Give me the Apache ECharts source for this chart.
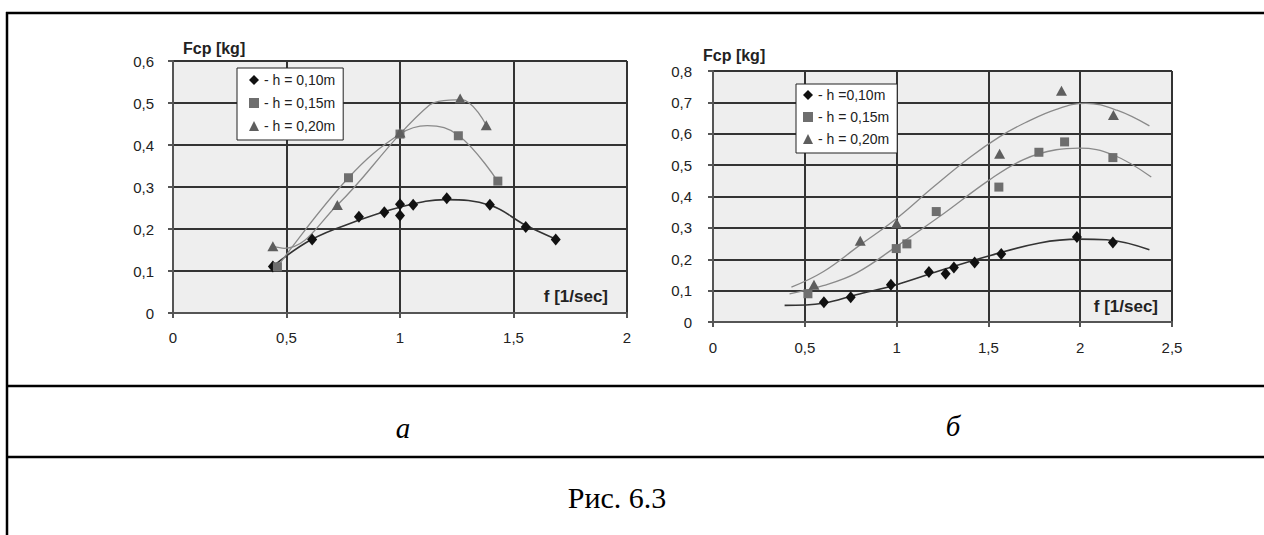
<!DOCTYPE html>
<html>
<head>
<meta charset="utf-8">
<script src="https://cdn.jsdelivr.net/npm/echarts@6/dist/echarts.min.js"></script>
<style>
  html, body { margin: 0; padding: 0; background: #fff; }
  #chart { width: 1264px; height: 535px; }
</style>
</head>
<body>
<div id="chart"></div>
<script>
// ---- Panel "а": measured points, f [1/sec] vs Fcp [kg]
const namesA = ['- h = 0,10m', '- h = 0,15m', '- h = 0,20m'];
const aH10 = [[0.44,0.111],[0.613,0.175],[0.819,0.229],[0.931,0.240],[1.0,0.259],[1.0,0.232],[1.058,0.258],[1.206,0.273],[1.396,0.258],[1.554,0.205],[1.686,0.175]];
const aH15 = [[0.46,0.110],[0.773,0.322],[1.0,0.426],[1.257,0.422],[1.431,0.314]];
const aH20 = [[0.44,0.159],[0.724,0.257],[1.0,0.430],[1.265,0.511],[1.38,0.447]];
// Panel "а": fitted curves
const aFit10 = [[0.44,0.111],[0.61,0.175],[0.8,0.217],[1.0,0.252],[1.2,0.270],[1.4,0.256],[1.55,0.210],[1.69,0.175]];
const aFit15 = [[0.46,0.110],[0.773,0.322],[1.0,0.426],[1.12,0.446],[1.26,0.422],[1.43,0.314]];
const aFit20 = [[0.44,0.159],[0.49,0.154],[0.724,0.257],[1.0,0.426],[1.13,0.495],[1.17,0.504],[1.27,0.508],[1.38,0.447]];

// ---- Panel "б": measured points
const namesB = ['- h =0,10m', '- h = 0,15m', '- h = 0,20m'];
const bH10 = [[0.604,0.063],[0.75,0.079],[0.969,0.119],[1.176,0.159],[1.267,0.154],[1.312,0.174],[1.425,0.190],[1.57,0.217],[1.982,0.271],[2.178,0.253]];
const bH15 = [[0.517,0.090],[0.998,0.234],[1.056,0.249],[1.216,0.352],[1.557,0.430],[1.775,0.541],[1.915,0.574],[2.178,0.524]];
const bH20 = [[0.55,0.119],[0.802,0.259],[1.0,0.315],[1.561,0.536],[1.898,0.737],[2.181,0.660]];
// Panel "б": fitted curves
const bFit10 = [[0.39,0.053],[0.6,0.060],[0.78,0.087],[1.0,0.119],[1.234,0.163],[1.506,0.211],[1.779,0.252],[1.996,0.264],[2.142,0.262],[2.377,0.230]];
const bFit15 = [[0.417,0.090],[0.6,0.116],[0.78,0.156],[1.0,0.241],[1.234,0.336],[1.506,0.453],[1.688,0.517],[1.869,0.549],[1.996,0.554],[2.178,0.533],[2.387,0.462]];
const bFit20 = [[0.427,0.111],[0.6,0.160],[0.8,0.245],[1.0,0.330],[1.2,0.430],[1.4,0.525],[1.56,0.590],[1.7,0.635],[1.87,0.678],[2.03,0.697],[2.2,0.675],[2.377,0.625]];

// Caption texts
const panelLetters = ['а', 'б'];
const figureCaption = 'Рис. 6.3';
const yTitle = 'Fcp [kg]';
const xTitle = 'f [1/sec]';

const SANS = "'Liberation Sans', Arial, sans-serif";
const SERIF = "'Liberation Serif', 'Times New Roman', serif";
const GRID_DARK = '#333';
const GRID_LIGHT = '#c4c4c4';

function decimalComma(v) {
  return v === 0 ? '0' : String(+v.toFixed(2)).replace('.', ',');
}
function splitColors(count) {
  const arr = [];
  for (let i = 0; i < count; i++) arr.push(i === count - 1 ? GRID_LIGHT : GRID_DARK);
  return arr;
}
function makeAxis(gridIndex, max, interval, ticks, margin) {
  return {
    type: 'value', gridIndex, min: 0, max, interval,
    axisLine: { show: true, onZero: false, lineStyle: { color: '#555', width: 2 } },
    axisTick: { show: true, length: 5, lineStyle: { color: '#555', width: 2 } },
    axisLabel: { formatter: decimalComma, color: '#222', fontSize: 15, fontFamily: SANS, margin },
    splitLine: { show: true, showMinLine: false, showMaxLine: true,
      lineStyle: { color: splitColors(ticks), width: 2 } }
  };
}
function curve(data, xi, color, width) {
  return {
    type: 'line', xAxisIndex: xi, yAxisIndex: xi, data, smooth: 0.4,
    showSymbol: false, symbol: 'none', silent: true, z: 2,
    lineStyle: { color, width }
  };
}
function points(name, data, xi, symbol, size, color) {
  return {
    type: 'scatter', name, xAxisIndex: xi, yAxisIndex: xi, data,
    symbol, symbolSize: size, itemStyle: { color, opacity: 1 }, z: 5
  };
}
function legend(data, left, top, padding, gap) {
  return {
    data, orient: 'vertical', left, top, padding, itemGap: gap,
    itemWidth: 10, itemHeight: 10, selectedMode: false,
    backgroundColor: '#fff', borderColor: '#222', borderWidth: 1,
    textStyle: { fontSize: 14, color: '#222', fontFamily: SANS }
  };
}

const chart = echarts.init(document.getElementById('chart'), null, { renderer: 'svg' });
chart.setOption({
  backgroundColor: '#fff',
  animation: false,
  grid: [
    { left: 173, top: 61, width: 454, height: 252, show: true, backgroundColor: '#eeeeee', borderWidth: 0 },
    { left: 713, top: 71, width: 459, height: 251, show: true, backgroundColor: '#eeeeee', borderWidth: 0 }
  ],
  xAxis: [ makeAxis(0, 2, 0.5, 5, 17), makeAxis(1, 2.5, 0.5, 6, 18) ],
  yAxis: [ makeAxis(0, 0.6, 0.1, 7, 19), makeAxis(1, 0.8, 0.1, 9, 21) ],
  legend: [
    legend(namesA, 237, 68, [5, 8, 7, 12], 9),
    legend(namesB, 796, 84, [4, 8, 7, 7], 8)
  ],
  series: [
    curve(aFit10, 0, '#333', 1.6),
    curve(aFit15, 0, '#8a8a8a', 1.3),
    curve(aFit20, 0, '#8a8a8a', 1.3),
    points(namesA[0], aH10, 0, 'diamond', [10, 12], '#111'),
    points(namesA[1], aH15, 0, 'rect', 9, '#6e6e6e'),
    points(namesA[2], aH20, 0, 'triangle', [11, 10], '#5e5e5e'),
    curve(bFit10, 1, '#333', 1.6),
    curve(bFit15, 1, '#8a8a8a', 1.3),
    curve(bFit20, 1, '#8a8a8a', 1.3),
    points(namesB[0], bH10, 1, 'diamond', [10, 12], '#111'),
    points(namesB[1], bH15, 1, 'rect', 9, '#6e6e6e'),
    points(namesB[2], bH20, 1, 'triangle', [11, 10], '#5e5e5e')
  ],
  graphic: [
    // table rules around the figure
    { type: 'line', shape: { x1: 6, y1: 13, x2: 1264, y2: 13 }, style: { stroke: '#000', lineWidth: 2.5 } },
    { type: 'line', shape: { x1: 7, y1: 12, x2: 7, y2: 535 }, style: { stroke: '#000', lineWidth: 2.5 } },
    { type: 'line', shape: { x1: 6, y1: 386, x2: 1264, y2: 386 }, style: { stroke: '#000', lineWidth: 2.5 } },
    { type: 'line', shape: { x1: 6, y1: 457, x2: 1264, y2: 457 }, style: { stroke: '#000', lineWidth: 2.5 } },
    // axis titles
    { type: 'text', style: { text: yTitle, x: 183, y: 48, font: 'bold 16px ' + SANS, fill: '#222', textVerticalAlign: 'middle' } },
    { type: 'text', style: { text: yTitle, x: 703, y: 55, font: 'bold 16px ' + SANS, fill: '#222', textVerticalAlign: 'middle' } },
    { type: 'text', z: 10, style: { text: xTitle, x: 608, y: 296, font: 'bold 17px ' + SANS, fill: '#222', textAlign: 'right', textVerticalAlign: 'middle' } },
    { type: 'text', z: 10, style: { text: xTitle, x: 1158, y: 306, font: 'bold 17px ' + SANS, fill: '#222', textAlign: 'right', textVerticalAlign: 'middle' } },
    // panel letters and caption
    { type: 'text', style: { text: panelLetters[0], x: 403, y: 428, font: 'italic 29px ' + SERIF, fill: '#000', textAlign: 'center', textVerticalAlign: 'middle' } },
    { type: 'text', style: { text: panelLetters[1], x: 953, y: 426, font: 'italic 29px ' + SERIF, fill: '#000', textAlign: 'center', textVerticalAlign: 'middle' } },
    { type: 'text', style: { text: figureCaption, x: 617, y: 497, font: '30px ' + SERIF, fill: '#000', textAlign: 'center', textVerticalAlign: 'middle' } }
  ]
});
</script>
</body>
</html>
